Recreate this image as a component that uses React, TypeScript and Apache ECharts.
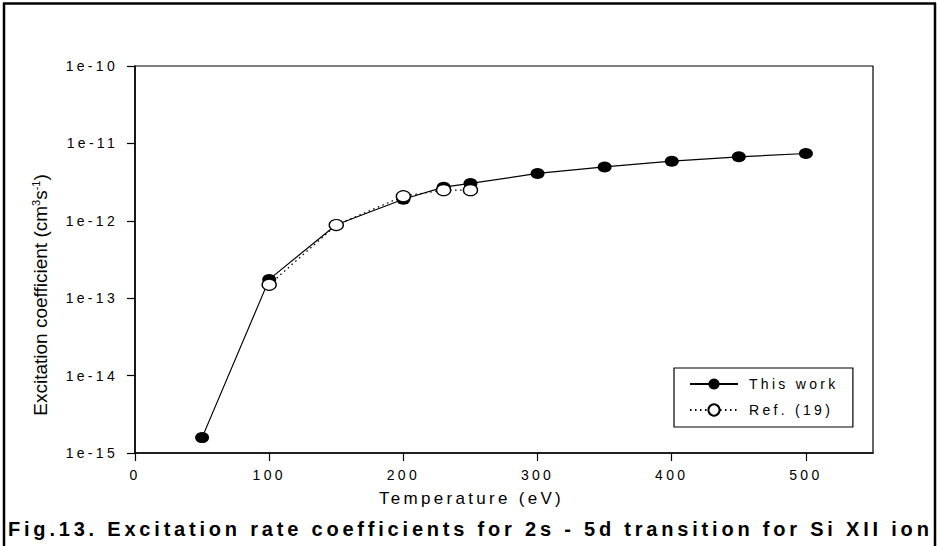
import React, { useEffect, useRef } from 'react';
import * as echarts from 'echarts';

// ---- data ----
const xTicks = [0, 100, 200, 300, 400, 500];
const yTickLabels = ['1e-15', '1e-14', '1e-13', '1e-12', '1e-11', '1e-10'];
const thisWorkT = [50, 100, 150, 200, 230, 250, 300, 350, 400, 450, 500];
const thisWorkK = [1.58e-15, 1.75e-13, 8.9e-13, 1.9e-12, 2.72e-12, 3.04e-12, 4.09e-12, 4.97e-12, 5.89e-12, 6.7e-12, 7.41e-12];
const refT = [100, 150, 200, 230, 250];
const refK = [1.49e-13, 8.8e-13, 2.08e-12, 2.49e-12, 2.49e-12];
const seriesNames = ['This work', 'Ref. (19)'];
const xName = 'Temperature (eV)';
const yNameRich = '{m|Excitation coefficient (cm}{s|3}{m|s}{s|-1}{m|)}';
const caption = 'Fig.13. Excitation rate coefficients for 2s - 5d transition for Si XII ion';

const FONT = 'Liberation Sans, Arial, sans-serif';

const css = `
#chart svg text { letter-spacing: 3.3px; }
#chart svg text[style*="19px"] { letter-spacing: 0px; }
#chart svg text[style*="11px"] { letter-spacing: 0px; }
#chart svg text[style*="20px"] { letter-spacing: 3.8px; }
`;

export default function App() {
  const ref = useRef<HTMLDivElement>(null);
  useEffect(() => {
    if (!ref.current) return;
    const chart = echarts.init(ref.current, null, { renderer: 'svg' });
    const pairs = (xs: number[], ys: number[]) => xs.map((x, i) => [x, ys[i]]);
    chart.setOption({
      animation: false,
      backgroundColor: '#fff',
      grid: {
        left: 135, right: 64, top: 66, bottom: 93,
        show: true, borderColor: '#000', borderWidth: 1.2, backgroundColor: 'transparent',
      },
      legend: {
        orient: 'vertical',
        left: 674, top: 368,
        padding: [9, 44, 10, 15],
        itemWidth: 48, itemHeight: 14, itemGap: 12,
        borderColor: '#000', borderWidth: 1.2,
        textStyle: { fontSize: 14, fontFamily: FONT, color: '#000', padding: [0, 0, 0, 6] },
        data: seriesNames,
      },
      xAxis: {
        type: 'value', min: 0, max: 550, interval: 100,
        axisLine: { show: true, lineStyle: { color: '#000', width: 1.5 } },
        axisTick: { show: true, inside: false, length: 8, lineStyle: { color: '#000', width: 1.2 }, customValues: xTicks },
        axisLabel: { customValues: xTicks, margin: 15, fontSize: 14, fontFamily: FONT, color: '#000', formatter: (v: number) => String(v) },
        splitLine: { show: false },
      },
      yAxis: {
        type: 'log', logBase: 10, min: 1e-15, max: 1e-10,
        axisLine: { show: true, lineStyle: { color: '#000', width: 1.5 } },
        axisTick: { show: true, inside: false, length: 8, lineStyle: { color: '#000', width: 1.2 } },
        minorTick: { show: false },
        axisLabel: {
          margin: 17, fontSize: 14, fontFamily: FONT, color: '#000',
          formatter: (v: number) => yTickLabels[Math.round(Math.log10(v)) + 15] ?? '',
        },
        splitLine: { show: false },
      },
      series: [
        {
          name: seriesNames[0], type: 'line', data: pairs(thisWorkT, thisWorkK),
          symbol: 'circle', symbolSize: [14, 11],
          lineStyle: { color: '#000', width: 1.2 },
          itemStyle: { color: '#000' },
          emphasis: { disabled: true }, z: 2,
        },
        {
          name: seriesNames[1], type: 'line', data: pairs(refT, refK),
          symbol: 'circle', symbolSize: [14, 11],
          lineStyle: { color: '#000', width: 1.3, type: [1.5, 3.5] },
          itemStyle: { color: '#fff', borderColor: '#000', borderWidth: 1.3 },
          emphasis: { disabled: true }, z: 3,
        },
      ],
      graphic: [
        {
          type: 'text', x: 40, y: 295, rotation: Math.PI / 2,
          style: {
            text: yNameRich, fill: '#000', align: 'center', verticalAlign: 'middle',
            fontSize: 19, fontFamily: FONT,
            rich: {
              m: { fontSize: 19, fontFamily: FONT, fill: '#000', verticalAlign: 'bottom' },
              s: { fontSize: 11, fontFamily: FONT, fill: '#000', verticalAlign: 'top' },
            },
          },
        },
        {
          type: 'text', x: 379, y: 498,
          style: { text: xName, fill: '#000', align: 'left', verticalAlign: 'middle', fontSize: 17, fontFamily: FONT },
        },
        {
          type: 'text', x: 8, y: 529,
          style: { text: caption, fill: '#000', align: 'left', verticalAlign: 'middle', fontSize: 20, fontWeight: 'bold', fontFamily: FONT },
        },
        { type: 'line', shape: { x1: 3, y1: 3.5, x2: 936, y2: 3.5 }, style: { stroke: '#000', lineWidth: 2.5 } },
        { type: 'line', shape: { x1: 4, y1: 3, x2: 4, y2: 546 }, style: { stroke: '#000', lineWidth: 2.5 } },
        { type: 'line', shape: { x1: 935, y1: 3, x2: 935, y2: 546 }, style: { stroke: '#000', lineWidth: 2.5 } },
      ],
    });
    return () => chart.dispose();
  }, []);
  return (
    <>
      <style>{css}</style>
      <div id="chart" ref={ref} style={{ position: 'absolute', left: 0, top: 0, width: 937, height: 546 }} />
    </>
  );
}
